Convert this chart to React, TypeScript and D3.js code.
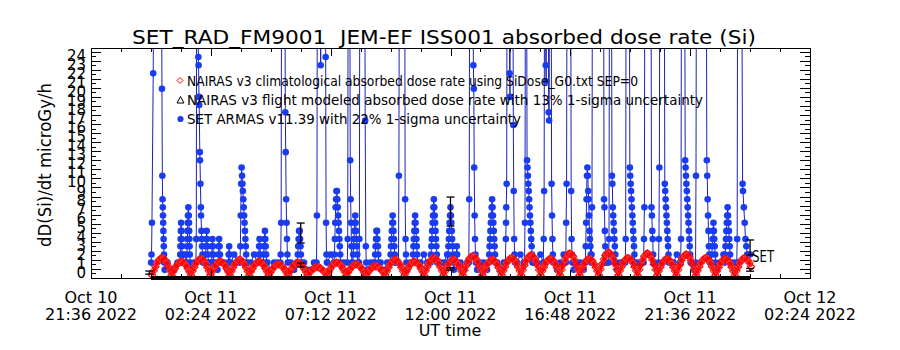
import React from "react";
import * as d3 from "d3";

type Pt = [number, number];

const WIDTH = 900;
const HEIGHT = 350;
const PLOT = { left: 91, right: 810, top: 48, bottom: 278 };
const FONT = "'DejaVu Sans ExtraLight', 'DejaVu Sans', 'Liberation Sans', sans-serif";

const titleText = "SET_RAD_FM9001  JEM-EF ISS001 absorbed dose rate (Si)";
const yAxisTitle = "dD(Si)/dt microGy/h";
const xAxisTitle = "UT time";
const legendLabels = [
  "NAIRAS v3 climatological absorbed dose rate using SiDose_G0.txt SEP=0",
  "NAIRAS v3 flight modeled absorbed dose rate with 13% 1-sigma uncertainty",
  "SET ARMAS v11.39 with 22% 1-sigma uncertainty",
];
const seriesEndLabel = "SET";

const dataStartISO = "2022-10-11T00:00:00Z";
const xDomainISO = ["2022-10-10T21:36:00Z", "2022-10-12T02:24:00Z"];
const xMajorTickISO = [
  "2022-10-10T21:36:00Z",
  "2022-10-11T02:24:00Z",
  "2022-10-11T07:12:00Z",
  "2022-10-11T12:00:00Z",
  "2022-10-11T16:48:00Z",
  "2022-10-11T21:36:00Z",
  "2022-10-12T02:24:00Z",
];
const yMaxDose = 25.4;
const yTickLabels = [0, 1, 2, 3, 4, 5, 6, 7, 8, 9, 10, 11, 12, 13, 14, 15, 16, 17, 18, 19, 20, 21, 22, 23, 24];

// SET ARMAS dose rate events: [minutes after 00:00 UT Oct 11, microGy/h]
const setEvents00to06: Pt[][] = [
  [[0.5,1.7],[1.5,2.6],[2.5,6.1],[5.5,22.6],[7,35],[25.5,35],[26.5,20.9],[27.5,11.3],[28,8.7],[28.5,7.8],[29,6.9],[29.5,6.1],[30,5.2],[30.5,4.3],[31,3.5],[31.5,2.6],[32,1.7],[33,0.9]],
  [[70,1.7],[70.5,2.6],[71,3.5],[71.5,4.3],[72,5.2],[72.5,6.1],[73.5,5.2],[74,4.3],[74.5,3.5],[75,2.6],[76,1.7]],
  [[86,1.7],[86.5,2.6],[87,3.5],[87.5,4.3],[88,5.2],[88.5,6.1],[89,6.9],[90,7.8],[91,6.9],[91.5,6.1],[92,5.2],[92.5,4.3],[93,3.5],[93.5,2.6],[94.5,1.7]],
  [[108,1.7],[109,4.3],[110,35],[113,35],[114,24.4],[114.5,23.5],[115.5,20.0],[116,19.1],[117.5,13.9],[118,13.0],[119,10.4],[120,7.8],[120.5,6.9],[121.5,5.2],[122,4.3],[123,3.5],[124,2.6],[125,1.7]],
  [[131,1.7],[131.5,2.6],[132,3.5],[133,4.3],[134,5.2],[135,4.3],[136,3.5],[137,2.6],[138,1.7]],
  [[146,1.7],[146.5,2.6],[147,3.5],[148,4.3],[149,3.5],[150,2.6],[151,1.7]],
  [[162,1.7],[162.5,2.6],[163,3.5],[164,4.3],[165,3.5],[166,2.6],[167,1.7]],
  [[186,1.7],[187,2.6],[188,3.5],[189,2.6],[190,1.7]],
  [[214,1.7],[215,3.5],[216,6.9],[217,10.4],[218,12.2],[219,11.3],[220,10.4],[221,9.6],[222,8.7],[223,7.8],[224,6.9],[225,6.1],[226,5.2],[227,4.3],[228,3.5],[229,2.6],[230,1.7]],
  [[258,1.7],[259,2.6],[260,3.5],[261,4.3],[262,3.5],[263,2.6],[264,1.7]],
  [[270,1.7],[271,2.6],[272,3.5],[273,4.3],[274,5.2],[275,4.3],[276,3.5],[277,2.6],[278,1.7]],
  [[311,1.7],[312,2.6],[313,6.1],[314,35],[322,35],[323,18.3],[324,13.9],[325,8.7],[326,6.1],[327,4.3],[328,2.6],[329,1.7]],
  [[352,1.7],[353,2.6],[354,3.5],[355,4.3],[356,5.2],[357.5,5.2],[358.5,4.3],[359.5,3.5],[360.5,2.6],[361.5,1.7]],
];
const setEvents06to12: Pt[][] = [
  [[398,1.7],[399,6.9],[400,35],[407,35],[408,23.5],[409,35],[419,35],[420,24.4],[421,6.1],[422,2.6],[423,1.7]],
  [[440,1.7],[441,2.6],[442,4.3],[443,6.1],[444,7.8],[445,8.7],[446,9.6],[447,9.6],[448,8.7],[449,7.8],[450,6.9],[451,6.1],[452,5.2],[453,4.3],[454,3.5],[455,2.6],[456,1.7]],
  [[472,1.7],[473,4.3],[474,35],[478,35],[479,13.0],[480,8.7],[481,6.1],[482,3.5],[483,1.7]],
  [[485,1.7],[486,2.6],[487,3.5],[488,4.3],[489,5.2],[490,6.1],[491,6.9],[492,6.1],[493,5.2],[494,4.3],[495,3.5],[496,2.6],[497,1.7]],
  [[500,1.7],[501,4.3],[502,35],[514,35],[515,17.4],[516.5,3.5],[517.5,1.7]],
  [[538,1.7],[539,2.6],[540,3.5],[541,4.3],[542,5.2],[543.5,5.2],[544.5,4.3],[545.5,3.5],[546.5,2.6],[547.5,1.7]],
  [[575,1.7],[576,2.6],[577,3.5],[578,4.3],[579,5.2],[580,6.1],[581,6.9],[582,6.1],[583,5.2],[584,4.3],[585,3.5],[586,2.6],[587,1.7]],
  [[595,1.7],[596,11.3],[597,35],[610,35],[611,8.7],[612,4.3],[613,2.6],[614,1.7]],
  [[629,1.7],[630,2.6],[631,3.5],[632,4.3],[633,5.2],[634,6.1],[635,6.9],[636,6.1],[637,5.2],[638,4.3],[639,3.5],[640,2.6],[641,1.7]],
  [[672,1.7],[673,2.6],[674,3.5],[675,4.3],[676,5.2],[677,6.1],[678,6.9],[679,7.8],[680,8.7],[681,7.8],[682,6.9],[683,6.1],[684,5.2],[685,4.3],[686,3.5],[687,2.6],[688,1.7]],
  [[713,1.7],[714,2.6],[715,3.5],[716,4.3],[717,5.2],[718,6.1],[719,6.9],[720,7.8],[721,6.9],[722,6.1],[723,5.2],[724,4.3],[725,3.5],[726,2.6],[727,1.7]],
];
const setEvents12to18: Pt[][] = [
  [[733,1.7],[734,2.6],[735,3.5],[736,2.6],[737,1.7]],
  [[764,1.7],[765,8.7],[766,35],[774,35],[775,23.5],[776,20.9],[777,12.2],[778,6.9],[779,4.3],[780,2.6],[781,1.7]],
  [[812,1.7],[813,2.6],[814,3.5],[815,4.3],[816,5.2],[817,6.1],[818,6.9],[819,7.8],[820,8.7],[821,7.8],[822,6.9],[823,6.1],[824,5.2],[825,4.3],[826,3.5],[827,2.6],[828,1.7]],
  [[852,1.7],[853,4.3],[853.5,6.1],[854,7.8],[855,10.4],[856,35],[861,35],[862,22.6],[863,20.0],[864,35],[870,35],[871,16.9],[872,9.6],[873,4.3],[874,2.6],[875,1.7]],
  [[898,1.7],[899,6.1],[900,35],[903,35],[904,13.0],[905,12.2],[906,11.3],[907,10.4],[908,9.6],[909,8.7],[910,7.8],[911,6.9],[912,6.1],[913,5.2],[914,4.3],[915,3.5],[916,2.6],[917,1.7]],
  [[943,1.7],[944,4.3],[945,9.6],[946,35],[948,35],[949,23.5],[950,21.7],[951,35],[955,35],[956,18.3],[957,17.4],[958,35],[962,35],[963,10.4],[964,6.9],[965,4.3],[966,2.6],[967,1.7]],
  [[997,1.7],[998,6.1],[999,10.4],[1000,35],[1009,35],[1010,9.6],[1011,4.3],[1012,2.6],[1013,1.7]],
  [[1044,1.7],[1045,3.5],[1046,6.1],[1047,8.7],[1048,11.3],[1049,12.2],[1050,11.3],[1051,9.6],[1052,8.7],[1053,6.9],[1054,5.2],[1055,4.3],[1056,3.5],[1057,2.6],[1058,1.7],[1059,2.6],[1060,7.8],[1061,35],[1088,35],[1089,8.7],[1090,7.8],[1091,5.2],[1092,3.5],[1093,2.6],[1094,1.7]],
];
const setEvents18to24: Pt[][] = [
  [[1100,1.7],[1101,4.3],[1102,35],[1107,35],[1108,11.3],[1109,10.4],[1110,7.8],[1111,6.9],[1112,6.1],[1113,5.2],[1114,4.3],[1115,3.5],[1116,2.6],[1117,1.7]],
  [[1140,1.7],[1141,4.3],[1142,35],[1150,35],[1151,12.2],[1152,11.3],[1153,10.4],[1154,9.6],[1155,8.7],[1156,7.8],[1157,6.9],[1158,6.1],[1159,5.2],[1160,4.3],[1161,3.5],[1162,2.6],[1163,1.7]],
  [[1184,1.7],[1185,4.3],[1186,7.8],[1187,35],[1202,35],[1203,7.8],[1204,6.9],[1205,5.2],[1206,4.3],[1207,2.6],[1208,1.7]],
  [[1220,1.7],[1221,4.3],[1222,12.2],[1223,35],[1234,35],[1235,10.4],[1236,9.6],[1237,8.7],[1238,7.8],[1239,6.9],[1240,6.1],[1241,5.2],[1242,4.3],[1243,3.5],[1244,2.6],[1245,1.7]],
  [[1273,1.7],[1274,4.3],[1275,35],[1283,35],[1284,13.0],[1285,12.2],[1286,11.3],[1287,10.4],[1288,9.6],[1289,8.7],[1290,7.8],[1291,6.9],[1292,6.1],[1293,5.2],[1294,4.3],[1295,3.5],[1296,2.6],[1297,1.7]],
  [[1309,1.7],[1310,11.3],[1311,35],[1335,35],[1336,13.0],[1337,11.3],[1338,8.7],[1339,6.9],[1340,5.2],[1341,3.5],[1342,2.6],[1343,1.7]],
  [[1347,1.7],[1348,2.6],[1349,3.5],[1350,4.3],[1351,5.2],[1352,6.1],[1353,5.2],[1354,4.3],[1355,3.5],[1356,2.6],[1357,1.7]],
  [[1379,1.7],[1380,2.6],[1381,3.5],[1382,4.3],[1383,5.2],[1384,6.1],[1385,6.9],[1386,7.8],[1387,6.9],[1388,6.1],[1389,5.2],[1390,4.3],[1391,3.5],[1392,2.6],[1393,1.7]],
  [[1408,1.7],[1409,4.3],[1410,35],[1420,35],[1422,10.4],[1423,9.6],[1425,7.8],[1427,6.1],[1429,4.3],[1431,3.5],[1433,2.6],[1436,2.6],[1440,2.6]],
];

// SET ARMAS quiet-time dose rate, 8-minute samples from 00:00 UT
const SET_QUIET_START_MIN = 0;
const SET_QUIET_STEP_MIN = 8;
const setQuietDose = [
  1.7,1.7,0.9,1.7,2.6,1.7,0.9,0.9,1.7,1.7,2.6,1.7,0.9,1.7,1.7,
  0.9,1.7,2.6,1.7,1.7,0.9,1.7,1.7,0.9,1.7,2.6,1.7,0.9,0.9,1.7,
  1.7,2.6,1.7,0.9,1.7,1.7,0.9,1.7,1.7,2.6,0.9,1.7,1.7,0.9,1.7,
  2.6,1.7,0.9,0.9,1.7,1.7,1.7,0.9,1.7,2.6,1.7,0.9,1.7,1.7,0.9,
  1.7,1.7,2.6,0.9,1.7,0.9,1.7,1.7,2.6,1.7,0.9,1.7,0.9,1.7,1.7,
  2.6,1.7,0.9,1.7,1.7,0.9,1.7,2.6,1.7,1.7,0.9,0.9,1.7,1.7,2.6,
  1.7,0.9,1.7,1.7,0.9,1.7,2.6,1.7,0.9,1.7,1.7,0.9,1.7,2.6,1.7,
  0.9,1.7,1.7,0.9,1.7,1.7,2.6,1.7,0.9,0.9,1.7,1.7,2.6,1.7,0.9,
  1.7,1.7,0.9,1.7,2.6,1.7,1.7,0.9,1.7,1.7,0.9,2.6,1.7,0.9,1.7,
  1.7,0.9,1.7,2.6,1.7,0.9,1.7,1.7,0.9,1.7,2.6,1.7,1.7,0.9,1.7,
  1.7,2.6,0.9,1.7,1.7,0.9,1.7,1.7,2.6,1.7,0.9,1.7,1.7,0.9,1.7,
  2.6,1.7,0.9,1.7,1.7,0.9,1.7,2.6,1.7,0.9,1.7,1.7,0.9,1.7,1.7,
  1.7,
];

// NAIRAS v3 climatological dose rate, model cadence 3.89 min starting 00:03 UT
const NAIRAS_START_MIN = 3;
const NAIRAS_STEP_MIN = 3.89;
const nairasClimDose = [
  0.30,0.79,1.25,1.65,1.95,2.14,2.20,2.14,1.95,1.65,1.25,0.79,
  0.28,0.69,1.05,1.37,1.61,1.76,1.80,1.76,1.61,1.37,1.05,0.69,
  0.30,0.77,1.20,1.58,1.87,2.05,2.10,2.05,1.87,1.58,1.20,0.77,
  0.32,0.69,1.05,1.37,1.61,1.76,1.80,1.76,1.61,1.37,1.05,0.69,
  0.30,0.74,1.15,1.51,1.78,1.95,2.00,1.95,1.78,1.51,1.15,0.74,
  0.28,0.69,1.05,1.37,1.61,1.76,1.80,1.76,1.61,1.37,1.05,0.69,
  0.30,0.61,0.90,1.15,1.34,1.46,1.50,1.46,1.34,1.15,0.90,0.61,
  0.30,0.66,1.00,1.29,1.52,1.66,1.70,1.66,1.52,1.29,1.00,0.66,
  0.32,0.53,0.75,0.94,1.08,1.17,1.20,1.17,1.08,0.94,0.75,0.53,
  0.30,0.66,1.00,1.29,1.52,1.66,1.70,1.66,1.52,1.29,1.00,0.66,
  0.28,0.61,0.90,1.15,1.34,1.46,1.50,1.46,1.34,1.15,0.90,0.61,
  0.30,0.56,0.80,1.01,1.17,1.27,1.30,1.27,1.17,1.01,0.80,0.56,
  0.30,0.74,1.15,1.51,1.78,1.95,2.00,1.95,1.78,1.51,1.15,0.74,
  0.32,0.69,1.05,1.37,1.61,1.76,1.80,1.76,1.61,1.37,1.05,0.69,
  0.30,0.79,1.25,1.65,1.95,2.14,2.20,2.14,1.95,1.65,1.25,0.79,
  0.28,0.74,1.15,1.51,1.78,1.95,2.00,1.95,1.78,1.51,1.15,0.74,
  0.30,0.85,1.35,1.79,2.13,2.34,2.40,2.34,2.13,1.79,1.35,0.85,
  0.30,0.74,1.15,1.51,1.78,1.95,2.00,1.95,1.78,1.51,1.15,0.74,
  0.32,0.79,1.25,1.65,1.95,2.14,2.20,2.14,1.95,1.65,1.25,0.79,
  0.30,0.87,1.40,1.86,2.21,2.43,2.50,2.43,2.21,1.86,1.40,0.87,
  0.28,0.77,1.20,1.58,1.87,2.05,2.10,2.05,1.87,1.58,1.20,0.77,
  0.30,0.92,1.50,2.00,2.39,2.63,2.70,2.63,2.39,2.00,1.50,0.92,
  0.30,0.77,1.20,1.58,1.87,2.05,2.10,2.05,1.87,1.58,1.20,0.77,
  0.32,0.95,1.55,2.08,2.48,2.73,2.80,2.73,2.48,2.08,1.55,0.95,
  0.30,0.79,1.25,1.65,1.95,2.14,2.20,2.14,1.95,1.65,1.25,0.79,
  0.28,0.92,1.50,2.00,2.39,2.63,2.70,2.63,2.39,2.00,1.50,0.92,
  0.30,0.77,1.20,1.58,1.87,2.05,2.10,2.05,1.87,1.58,1.20,0.77,
  0.30,0.90,1.45,1.93,2.30,2.53,2.60,2.53,2.30,1.93,1.45,0.90,
  0.32,0.79,1.25,1.65,1.95,2.14,2.20,2.14,1.95,1.65,1.25,0.79,
  0.30,0.77,1.20,1.58,1.87,2.05,2.10,2.05,1.87,1.58,1.20,0.77,
  0.28,0.79,1.25,1.65,1.95,2.14,2.20,2.14,1.95,1.65,1.25,
];

// NAIRAS v3 flight-modeled values (black): zero outside the sampled times
const nairasFlightZeroSpanMin = [0, 1440];
const nairasFlightMin = [-4, 360, 720, 1440];
const nairasFlightDose = [0.6, 1.43, 1.0, 0.9];
const nairasFlightHalfErr = [0.17, 0.22, 0.13, 0.15];

// SET ARMAS 22% 1-sigma error bars
const setErrMin = [360, 720, 1440];
const setErrDose = [4.97, 7.34, 3.37];
const setErrHalf = [1.1, 1.6, 0.83];

const SET_LINE = "#1b22b8";
const SET_DOT = "#1a3cf0";
const NAIRAS_RED = "#ff0000";

export default function App() {
  const x = d3
    .scaleUtc()
    .domain(xDomainISO.map((s) => new Date(s)))
    .range([PLOT.left, PLOT.right]);
  const y = d3.scaleLinear().domain([0, yMaxDose]).range([PLOT.bottom, PLOT.top]);
  const t0 = new Date(dataStartISO).getTime();
  const tm = (m: number) => new Date(t0 + m * 60000);
  const xm = (m: number) => x(tm(m));

  const events = [...setEvents00to06, ...setEvents06to12, ...setEvents12to18, ...setEvents18to24];
  const windows = events.map((e) => [e[0][0] - 0.5, e[e.length - 1][0] + 0.5]);
  const quiet: Pt[] = setQuietDose
    .map((v, i) => [SET_QUIET_START_MIN + i * SET_QUIET_STEP_MIN, v] as Pt)
    .filter(([t]) => !windows.some(([a, b]) => t >= a && t <= b));
  const setAll: Pt[] = [...events.flat(), ...quiet].sort((a, b) => a[0] - b[0]);

  const setLine = d3
    .line<Pt>()
    .x((d) => xm(d[0]))
    .y((d) => y(d[1]))(setAll) as string;

  const nairasPts: Pt[] = nairasClimDose.map((v, i) => [NAIRAS_START_MIN + i * NAIRAS_STEP_MIN, v]);
  const nairasLine = d3
    .line<Pt>()
    .x((d) => xm(d[0]))
    .y((d) => y(d[1]))(nairasPts) as string;

  const majorDates = xMajorTickISO.map((s) => new Date(s));
  const minorDates: Date[] = [];
  for (let i = 0; i < majorDates.length - 1; i++) {
    const a = majorDates[i].getTime();
    const b = majorDates[i + 1].getTime();
    for (let k = 1; k < 4; k++) minorDates.push(new Date(a + ((b - a) * k) / 4));
  }
  const fmtDay = d3.utcFormat("%b %d");
  const fmtTime = d3.utcFormat("%H:%M %Y");

  const yMajor = d3.range(0, Math.floor(yMaxDose) + 0.001, 1);
  const yMinor = d3.range(0.5, yMaxDose, 1);

  const diamond = (cx: number, cy: number, r: number) =>
    `M${cx},${cy - r}L${cx + r},${cy}L${cx},${cy + r}L${cx - r},${cy}Z`;

  const errBar = (m: number, c: number, h: number, key: string) => {
    const cx = xm(m);
    const y1 = y(c + h);
    const y2 = y(c - h);
    return (
      <g key={key} stroke="#000" strokeWidth={1.3} fill="none">
        <line x1={cx} x2={cx} y1={y1} y2={y2} />
        <line x1={cx - 4} x2={cx + 4} y1={y1} y2={y1} />
        <line x1={cx - 4} x2={cx + 4} y1={y2} y2={y2} />
      </g>
    );
  };

  const lastSet = setAll[setAll.length - 1];
  const legendY = [85.5, 104.5, 124];
  const legendSymY = [80.5, 100, 119];
  const legendLen = [451, 516, 334];

  return (
    <svg
      width={WIDTH}
      height={HEIGHT}
      style={{ position: "absolute", left: 0, top: 0, background: "#fff" }}
      fontFamily={FONT}
    >
      <rect x={0} y={0} width={WIDTH} height={HEIGHT} fill="#fff" />
      <defs>
        <clipPath id="plotClip">
          <rect x={PLOT.left} y={PLOT.top} width={PLOT.right - PLOT.left} height={PLOT.bottom - PLOT.top + 4} />
        </clipPath>
      </defs>

      <g clipPath="url(#plotClip)">
        <path d={setLine} fill="none" stroke={SET_LINE} strokeWidth={1} />
        {setAll.map((d, i) => (
          <circle key={i} cx={xm(d[0])} cy={y(d[1])} r={3.3} fill={SET_DOT} />
        ))}
        <path d={nairasLine} fill="none" stroke={NAIRAS_RED} strokeWidth={3.5} strokeLinejoin="round" />
        {nairasPts.map((d, i) => (
          <path
            key={i}
            d={diamond(xm(d[0]), y(d[1]), 3.6)}
            fill="none"
            stroke={i % 2 === 0 ? NAIRAS_RED : "#f03030"}
            strokeWidth={1.2}
          />
        ))}
      </g>

      <line
        x1={xm(nairasFlightZeroSpanMin[0])}
        x2={xm(nairasFlightZeroSpanMin[1])}
        y1={y(0)}
        y2={y(0)}
        stroke="#000"
        strokeWidth={4}
      />

      {nairasFlightMin.map((m, i) => errBar(m, nairasFlightDose[i], nairasFlightHalfErr[i], "f" + i))}
      {setErrMin.map((m, i) => errBar(m, setErrDose[i], setErrHalf[i], "s" + i))}

      <text x={xm(lastSet[0]) + 2} y={y(lastSet[1]) + 8} fontSize={15} fill="#000" textLength={22} lengthAdjust="spacingAndGlyphs">
        {seriesEndLabel}
      </text>

      {/* frame */}
      <rect
        x={PLOT.left + 0.5}
        y={PLOT.top + 0.5}
        width={PLOT.right - PLOT.left}
        height={PLOT.bottom - PLOT.top}
        fill="none"
        stroke="#000"
        strokeWidth={1}
        shapeRendering="crispEdges"
      />

      {/* ticks */}
      <g stroke="#000" strokeWidth={1} shapeRendering="crispEdges">
        {yMajor.map((v) => (
          <g key={"ym" + v}>
            <line x1={PLOT.left} x2={PLOT.left + 10} y1={Math.round(y(v)) + 0.5} y2={Math.round(y(v)) + 0.5} />
            <line x1={PLOT.right} x2={PLOT.right - 10} y1={Math.round(y(v)) + 0.5} y2={Math.round(y(v)) + 0.5} />
          </g>
        ))}
        {yMinor.map((v) => (
          <g key={"yn" + v}>
            <line x1={PLOT.left} x2={PLOT.left + 5} y1={Math.round(y(v)) + 0.5} y2={Math.round(y(v)) + 0.5} />
            <line x1={PLOT.right} x2={PLOT.right - 5} y1={Math.round(y(v)) + 0.5} y2={Math.round(y(v)) + 0.5} />
          </g>
        ))}
        {majorDates.map((d, i) => (
          <g key={"xm" + i}>
            <line x1={Math.round(x(d)) + 0.5} x2={Math.round(x(d)) + 0.5} y1={PLOT.top} y2={PLOT.top + 8} />
            <line x1={Math.round(x(d)) + 0.5} x2={Math.round(x(d)) + 0.5} y1={PLOT.bottom} y2={PLOT.bottom - 8} />
          </g>
        ))}
        {minorDates.map((d, i) => (
          <g key={"xn" + i}>
            <line x1={Math.round(x(d)) + 0.5} x2={Math.round(x(d)) + 0.5} y1={PLOT.top} y2={PLOT.top + 4} />
            <line x1={Math.round(x(d)) + 0.5} x2={Math.round(x(d)) + 0.5} y1={PLOT.bottom} y2={PLOT.bottom - 4} />
          </g>
        ))}
      </g>

      {/* y tick labels */}
      {yTickLabels.map((v) => (
        <text key={"yl" + v} x={86} y={y(v)} fontSize={15} textAnchor="end" fill="#000">
          {String(v)}
        </text>
      ))}

      {/* x tick labels */}
      {majorDates.map((d, i) => (
        <g key={"xl" + i} fill="#000" fontSize={16} textAnchor="middle">
          <text x={x(d)} y={303}>{fmtDay(d)}</text>
          <text x={x(d)} y={320}>{fmtTime(d)}</text>
        </g>
      ))}

      <text x={450} y={336} fontSize={16} textAnchor="middle" fill="#000">
        {xAxisTitle}
      </text>

      <text
        transform="translate(51,165) rotate(-90)"
        fontSize={17}
        textAnchor="middle"
        fill="#000"
        textLength={164}
        lengthAdjust="spacingAndGlyphs"
      >
        {yAxisTitle}
      </text>

      <text
        x={444}
        y={44}
        fontSize={19}
        textAnchor="middle"
        fill="#000"
        textLength={624}
        lengthAdjust="spacingAndGlyphs"
        style={{ whiteSpace: "pre" }}
      >
        {titleText}
      </text>

      {/* legend */}
      <path d={diamond(180, legendSymY[0], 3)} fill="none" stroke={NAIRAS_RED} strokeWidth={1} />
      <path
        d={`M180.5,${legendSymY[1] - 3.5}L184,${legendSymY[1] + 3}L177,${legendSymY[1] + 3}Z`}
        fill="none"
        stroke="#000"
        strokeWidth={1}
      />
      <circle cx={180.5} cy={legendSymY[2]} r={3.1} fill={SET_DOT} />
      {legendLabels.map((s, i) => (
        <text
          key={"lg" + i}
          x={187}
          y={legendY[i]}
          fontSize={14}
          fill="#000"
          textLength={legendLen[i]}
          lengthAdjust="spacingAndGlyphs"
        >
          {s}
        </text>
      ))}
    </svg>
  );
}
